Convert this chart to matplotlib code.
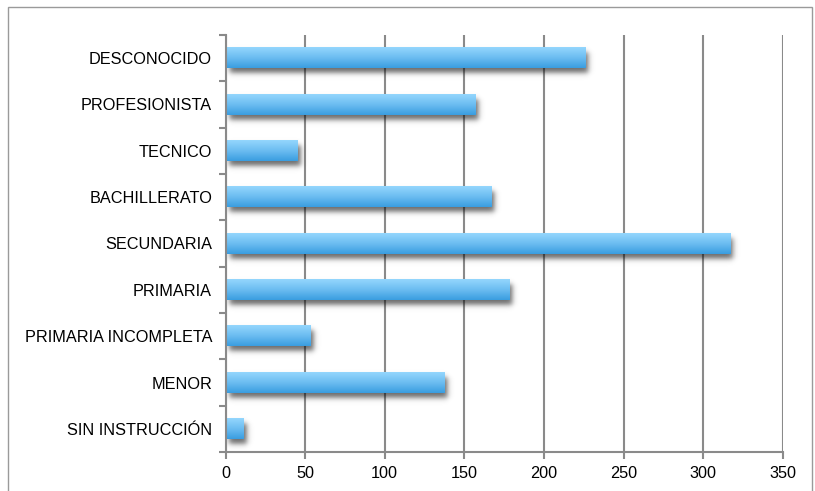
import numpy as np
import matplotlib
matplotlib.use("Agg")
import matplotlib.pyplot as plt
from matplotlib.patches import Rectangle

plt.rcParams['font.family'] = ['Liberation Sans', 'DejaVu Sans']

categorias = ["SIN INSTRUCCIÓN", "MENOR", "PRIMARIA INCOMPLETA", "PRIMARIA",
              "SECUNDARIA", "BACHILLERATO", "TECNICO", "PROFESIONISTA", "DESCONOCIDO"]
valores = [11, 137, 53, 178, 317, 167, 45, 157, 226]
xticks = [0, 50, 100, 150, 200, 250, 300, 350]

fig = plt.figure(figsize=(8.15, 4.91), dpi=100)
ax = fig.add_axes([0.2767, 0.0794, 0.6837, 0.8494])

# marco alrededor de la figura
fig.patches.append(Rectangle((8 / 815, -0.02), 804 / 815, 1 - 7 / 491 + 0.02,
                             transform=fig.transFigure, fill=False,
                             edgecolor="#9a9a9a", linewidth=1.0))

ax.set_xlim(0, 350)
ax.set_ylim(-0.5, 8.5)

# escala de pixeles por unidad para la sombra
px_x = 0.6837 * 815 / 350
px_y = 0.8494 * 491 / 9


def suave(t):
    return 0.5 * (1 + np.tanh(1.2 * t))


alto = 0.44
grad = np.linspace(0, 1, 64).reshape(-1, 1)
cmap = matplotlib.colors.LinearSegmentedColormap.from_list(
    "azul", ["#3a9de0", "#6cbdf1", "#94d6fd"])

for i, v in enumerate(valores):
    y0 = i - alto / 2
    # sombra difusa desplazada
    dx, dy, sig = 3 / px_x, -5 / px_y, 3.8
    ex = (-8 / px_x, v + 16 / px_x, y0 + dy - 14 / px_y, y0 + alto + 6 / px_y)
    xs = np.linspace(ex[0], ex[1], 220)
    ys = np.linspace(ex[2], ex[3], 70)
    X, Y = np.meshgrid(xs, ys)
    a = (suave((X - dx) * px_x / sig) * suave((v + dx - X) * px_x / sig) *
         suave((Y - (y0 + dy)) * px_y / sig) * suave((y0 + alto + dy - Y) * px_y / sig))
    rgba = np.zeros(a.shape + (4,))
    rgba[..., 3] = 0.58 * a
    ax.imshow(rgba, extent=ex, aspect="auto", origin="lower", zorder=2,
              interpolation="bilinear")
    ax.imshow(grad, extent=(0, v, y0, y0 + alto), aspect="auto", cmap=cmap,
              origin="lower", zorder=3, interpolation="bilinear")

ax.set_xlim(0, 350)
ax.set_ylim(-0.5, 8.5)
ax.set_yticks(range(len(categorias)))
ax.set_yticklabels(categorias)
ax.set_yticks(np.arange(-0.5, 9.0, 1.0), minor=True)
ax.tick_params(axis="y", which="major", length=0, pad=9.7)
ax.tick_params(axis="y", which="minor", length=5, width=1.5, color="#8a8a8a", direction="out")
ax.set_xticks(xticks)
ax.tick_params(axis="x", length=5, width=1.5, color="#8a8a8a", direction="out", pad=5)
ax.tick_params(labelsize=11.7, labelcolor="black")

ax.grid(axis="x", color="#8a8a8a", linewidth=1.5, zorder=1)
ax.set_axisbelow(True)
for s in ["top", "right"]:
    ax.spines[s].set_visible(False)
for s in ["left", "bottom"]:
    ax.spines[s].set_color("#8a8a8a")
    ax.spines[s].set_linewidth(1.5)
    ax.spines[s].set_zorder(4)

fig.savefig("out.png", dpi=100)
